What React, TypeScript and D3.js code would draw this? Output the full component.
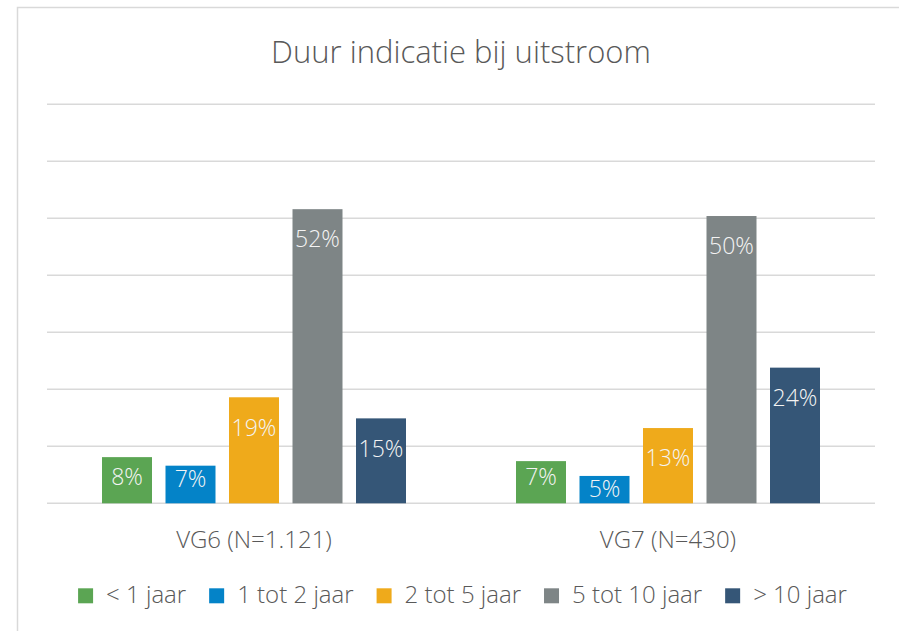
import React, { useEffect, useRef } from "react";
import * as d3 from "d3";

const title = "Duur indicatie bij uitstroom";
const categories = ["VG6 (N=1.121)", "VG7 (N=430)"];
const seriesNames = ["< 1 jaar", "1 tot 2 jaar", "2 tot 5 jaar", "5 tot 10 jaar", "> 10 jaar"];
const seriesColors = ["#5ba553", "#0483c8", "#efaa1b", "#7e8586", "#355677"];
// values per category, in series order (percent)
const vg6Values = [8.1, 6.6, 18.6, 51.6, 14.9];
const vg7Values = [7.4, 4.8, 13.2, 50.4, 23.8];
const yTicks = [0, 10, 20, 30, 40, 50, 60, 70];

const W = 899;
const H = 631;
const FONT = "'Open Sans', 'Noto Sans', sans-serif";
const TEXT = "#595959";
const GRID = "#d9d9d9";

export default function App() {
  const ref = useRef<SVGSVGElement | null>(null);

  useEffect(() => {
    const svg = d3.select(ref.current);
    svg.selectAll("*").remove();

    const plotLeft = 47;
    const plotRight = 875;
    const baseY = 503.3;
    const topY = 104.3;

    const data = [vg6Values, vg7Values];

    svg
      .append("rect")
      .attr("x", 17.5)
      .attr("y", 7.5)
      .attr("width", 1000)
      .attr("height", 1000)
      .attr("fill", "#ffffff")
      .attr("stroke", GRID)
      .attr("stroke-width", 1.5);

    const y = d3.scaleLinear().domain([0, 70]).range([baseY, topY]);
    const x0 = d3
      .scaleBand<string>()
      .domain(categories)
      .range([plotLeft, plotRight])
      .paddingInner(110 / 414)
      .paddingOuter(55 / 414);
    const x1 = d3
      .scaleBand<string>()
      .domain(seriesNames)
      .range([0, x0.bandwidth()])
      .paddingInner(13.5 / 63.5)
      .paddingOuter(0);

    // gridlines
    svg
      .append("g")
      .selectAll("line")
      .data(yTicks)
      .join("line")
      .attr("x1", plotLeft)
      .attr("x2", plotRight)
      .attr("y1", (d) => y(d))
      .attr("y2", (d) => y(d))
      .attr("stroke", GRID)
      .attr("stroke-width", 1.5);

    // title
    svg
      .append("text")
      .attr("x", (plotLeft + plotRight) / 2)
      .attr("y", 63)
      .attr("text-anchor", "middle")
      .attr("font-family", FONT)
      .attr("font-weight", 300)
      .attr("font-size", 31)
      .attr("fill", TEXT)
      .text(title);

    // bars
    categories.forEach((cat, ci) => {
      const g = svg.append("g").attr("transform", `translate(${x0(cat)},0)`);
      const rows = seriesNames.map((s, si) => ({ s, v: data[ci][si], c: seriesColors[si] }));
      g.selectAll("rect")
        .data(rows)
        .join("rect")
        .attr("x", (d) => x1(d.s)!)
        .attr("y", (d) => y(d.v))
        .attr("width", x1.bandwidth())
        .attr("height", (d) => baseY - y(d.v))
        .attr("fill", (d) => d.c);

      g.selectAll("text")
        .data(rows)
        .join("text")
        .attr("x", (d) => x1(d.s)! + x1.bandwidth() / 2)
        .attr("y", (d) => {
          const top = y(d.v);
          const c = Math.max(Math.min(top + 30, baseY - 26.6), top + 12.6);
          return c;
        })
        .attr("dy", "0.36em")
        .attr("text-anchor", "middle")
        .attr("font-family", FONT)
        .attr("font-weight", 300)
        .attr("font-size", 23)
        .attr("fill", "#f4f4f4")
        .text((d) => `${Math.round(d.v)}%`);

      svg
        .append("text")
        .attr("x", x0(cat)! + x0.bandwidth() / 2)
        .attr("y", 548.3)
        .attr("text-anchor", "middle")
        .attr("font-family", FONT)
        .attr("font-weight", 300)
        .attr("font-size", 24)
        .attr("fill", TEXT)
        .text(cat);
    });

    // legend
    const lg = svg.append("g");
    const sq = 15;
    const gapText = 13;
    const gapItem = 23;
    const items = seriesNames.map((s, i) => {
      const ig = lg.append("g");
      ig.append("rect")
        .attr("x", 0)
        .attr("y", 588.3)
        .attr("width", sq)
        .attr("height", sq)
        .attr("fill", seriesColors[i]);
      const t = ig
        .append("text")
        .attr("x", sq + gapText)
        .attr("y", 603.3)
        .attr("font-family", FONT)
        .attr("font-weight", 300)
        .attr("font-size", 24)
        .attr("fill", TEXT)
        .text(s);
      const w = (t.node() as SVGTextElement).getComputedTextLength();
      return { ig, w: sq + gapText + w };
    });
    const total = d3.sum(items, (d) => d.w) + gapItem * (items.length - 1);
    let cx = 462.5 - total / 2;
    items.forEach((it) => {
      it.ig.attr("transform", `translate(${cx},0)`);
      cx += it.w + gapItem;
    });
  }, []);

  return (
    <svg
      ref={ref}
      width={W}
      height={H}
      style={{ position: "absolute", left: 0, top: 0, display: "block", background: "#ffffff" }}
    />
  );
}
